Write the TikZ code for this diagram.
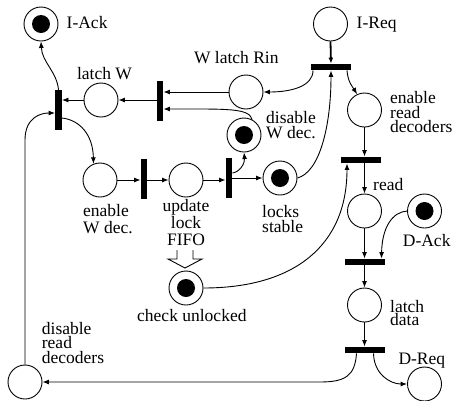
\documentclass[tikz,border=0pt]{standalone}
\usepackage{fontspec}
\setmainfont{Liberation Serif}
\usetikzlibrary{arrows.meta}
\newcommand\lblf[1]{\fontsize{17.5}{#1}\selectfont\lineskiplimit=-30pt\relax}
\begin{document}
\begin{tikzpicture}[x=1pt,y=-1pt,
 place/.style={circle,draw,line width=0.9pt,minimum size=34pt,inner sep=0pt},
 token/.style={place,path picture={\fill (path picture bounding box.center) circle (9pt);}},
 vbar/.style={rectangle,fill=black,minimum width=6.5pt,minimum height=40pt,inner sep=0pt},
 hbar/.style={rectangle,fill=black,minimum width=40pt,minimum height=6.5pt,inner sep=0pt},
 arc/.style={line width=0.9pt,-{Latex[length=6.5pt,width=5pt]}},
 lbl/.style={inner sep=0pt,font=\lblf{15}},
]
\useasboundingbox (0,0) rectangle (456,400);
% places and transitions
\node[token] (iack) at (41,24) {};
\node[place] (ireq) at (330.5,24) {};
\node[vbar] (t1) at (58.5,110) {};
\node[place] (latchw) at (101,100) {};
\node[vbar] (t2) at (160,101) {};
\node[place] (wrin) at (246,92) {};
\node[hbar] (t3) at (331,67) {};
\node[place] (erd) at (364.5,110) {};
\node[token] (disw) at (244,135) {};
\node[place] (enw) at (100,180) {};
\node[vbar] (t4) at (144,179) {};
\node[place] (upd) at (186,180) {};
\node[vbar] (t5) at (229,178) {};
\node[token] (ls) at (280,178) {};
\node[token] (chk) at (186,288) {};
\node[hbar] (t6) at (361,160) {};
\node[place] (read) at (364.5,211) {};
\node[token] (dack) at (424.5,211) {};
\node[hbar] (t7) at (364.5,262) {};
\node[place] (ld) at (364.5,305) {};
\node[hbar] (t8) at (364.5,350) {};
\node[place] (dreq) at (424.5,384) {};
\node[place] (drd) at (25,382) {};
% labels
\node[lbl,anchor=base west] (liack) at (66.5,28.5) {I-Ack};
\node[lbl,anchor=base west] (lireq) at (356.5,28.5) {I-Req};
\node[lbl,anchor=base] (llatchw) at (104.5,79) {latch W};
\node[lbl,anchor=base] (lwrin) at (236.3,63.3) {W latch Rin};
\node[lbl,font=\lblf{14.5},anchor=north west,align=left] (lerd) at (390,91.4) {enable\\read\\decoders};
\node[lbl,font=\lblf{15},anchor=north west,align=left] (ldisw) at (266,111.4) {disable\\W dec.};
\node[lbl,font=\lblf{17.6},anchor=north west,align=left] (lenw) at (83,203.7) {enable\\W dec.};
\node[lbl,font=\lblf{17},anchor=north,align=center] (lupd) at (186,199) {update\\lock\\FIFO};
\node[lbl,font=\lblf{15},anchor=north west,align=left] (lls) at (262,204.7) {locks\\stable};
\node[lbl,anchor=base west] (lchk) at (137,321.7) {check unlocked};
\node[lbl,anchor=base west] (lread) at (373,190) {read};
\node[lbl,anchor=base west] (ldack) at (402.7,246.7) {D-Ack};
\node[lbl,font=\lblf{13.3},anchor=north west,align=left] (lld) at (390,299.8) {latch\\data};
\node[lbl,anchor=base west] (ldreq) at (398.3,364.3) {D-Req};
\node[lbl,font=\lblf{14.3},anchor=north west,align=left] (ldrd) at (41.7,322.1) {disable\\read\\decoders};
% arcs
\draw[arc] (t1.north) .. controls (57,72) and (42,62) .. (iack.south);
\draw[arc] ([yshift=-8pt]t1.east) .. controls (80,120) and (93,135) .. (enw.112);
\draw[arc] (latchw.west) -- (latchw.west -| t1.east);
\draw[arc] (latchw.east -| t2.west) -- (latchw.east);
\draw[arc] (wrin.west) -- (wrin.west -| t2.east);
\draw[arc] (disw.62) .. controls (249,108) and (228,109) .. ([yshift=-8pt]t2.east);
\draw[arc] ([xshift=-18pt]t3.south) .. controls (313,86) and (292,92) .. (wrin.east);
\draw[arc] ([xshift=16pt]t3.south) .. controls (348,82) and (352,86) .. (erd.115);
\draw[-{Latex[length=6pt,width=5pt]},line width=1.8pt] (ireq.south) -- (t3.north);
\draw[arc] (ls.east) .. controls (320,172) and (331,125) .. (t3.south);
\draw[arc] (erd.south) -- (erd.south |- t6.north);
\draw[arc] (t6.south -| read.north) -- (read.north);
\draw[arc] (chk.east) .. controls (295,288) and (347,245) .. ([xshift=-14pt]t6.south);
\draw[arc] (read.south) -- (t7.north -| read.south);
\draw[arc] (dack.west) .. controls (392,212) and (382,228) .. ([xshift=17pt]t7.north);
\draw[arc] (t7.south) -- (ld.north);
\draw[arc] (ld.south) -- (t8.north);
\draw[arc] ([xshift=9pt]t8.south) .. controls (374,374) and (390,384) .. (dreq.west);
\draw[arc] ([xshift=-8pt]t8.south) .. controls (355,376) and (345,382) .. (320,382) -- (drd.east);
\draw[arc] (drd.north) -- (25,140) .. controls (25,118) and (40,113) .. ([yshift=-3pt]t1.west);
\draw[arc] (enw.east) -- (enw.east -| t4.west);
\draw[arc] (t4.east |- upd.west) -- (upd.west);
\draw[arc] (upd.east) -- (upd.east -| t5.west);
\draw[arc] (t5.east |- ls.west) -- (ls.west);
\draw[arc] ([yshift=5pt]t5.east) .. controls (240,172) and (245,163) .. (disw.south);
% hollow arrow from FIFO to check unlocked
\draw[line width=0.9pt,line join=miter] (177,250) -- (177,259) -- (168,259) -- (185,268) -- (202,259) -- (193,259) -- (193,250);
\end{tikzpicture}
\end{document}
